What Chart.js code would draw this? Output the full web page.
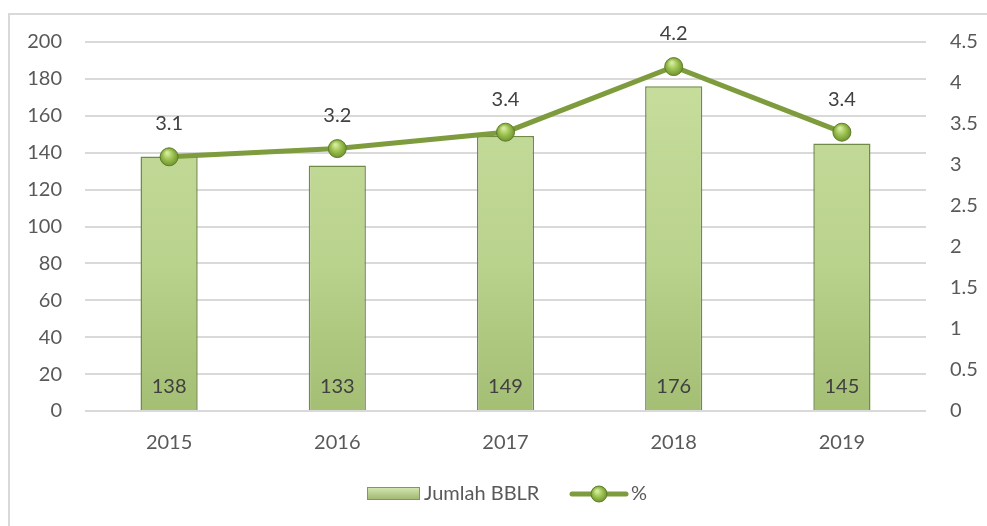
<!DOCTYPE html>
<html>
<head>
<meta charset="utf-8">
<script src="https://cdn.jsdelivr.net/npm/chart.js@4.4.0/dist/chart.umd.min.js"></script>
<style>
  html, body { margin: 0; padding: 0; background: #fff; overflow: hidden; }
  #wrap { position: relative; width: 987px; height: 526px; }
  #frame { position: absolute; left: 8px; top: 13px; width: 1000px; height: 530px;
           border-left: 2px solid #d9d9d9; border-top: 2px solid #d9d9d9; pointer-events: none; }
</style>
</head>
<body>
<div id="wrap">
  <canvas id="bblrChart" width="987" height="526"></canvas>
  <div id="frame"></div>
</div>
<script>
// Data
const years = ['2015', '2016', '2017', '2018', '2019'];
const jumlahBBLR = [138, 133, 149, 176, 145];
const persen = [3.1, 3.2, 3.4, 4.2, 3.4];
const leftTicks = [0, 20, 40, 60, 80, 100, 120, 140, 160, 180, 200];
const rightTicks = [0, 0.5, 1, 1.5, 2, 2.5, 3, 3.5, 4, 4.5];

const FONT = 'Lato, "Open Sans", sans-serif';
const TEXT = '#595959';

// vertical green gradient for the bars
function barGradient(context) {
  const area = context.chart.chartArea;
  if (!area) return '#b5d08a';
  const g = context.chart.ctx.createLinearGradient(0, area.top, 0, area.bottom);
  g.addColorStop(0, '#c9df9f');
  g.addColorStop(0.6, '#b9d28c');
  g.addColorStop(1, '#a4be74');
  return g;
}

// shiny ball look for the line points
function pointGradient(context) {
  const chart = context.chart;
  if (!chart.chartArea || context.dataIndex === undefined) return '#92b84a';
  const px = chart.scales.x.getPixelForValue(context.dataIndex);
  const py = chart.scales.y1.getPixelForValue(context.raw);
  const g = chart.ctx.createRadialGradient(px - 2, py - 4, 1, px, py, 10);
  g.addColorStop(0, '#d4ea9c');
  g.addColorStop(0.5, '#98be4c');
  g.addColorStop(1, '#6a8c2c');
  return g;
}

// value labels + legend drawn after the chart
const labelPlugin = {
  id: 'labels',
  afterDatasetsDraw(chart) {
    const ctx = chart.ctx;
    ctx.save();
    ctx.font = '20px ' + FONT;
    ctx.fillStyle = '#404040';
    ctx.textAlign = 'center';
    ctx.textBaseline = 'middle';
    const base = chart.scales.y.getPixelForValue(0);
    chart.getDatasetMeta(0).data.forEach((bar, i) => {
      ctx.fillText(jumlahBBLR[i], bar.x, base - 24);
    });
    chart.getDatasetMeta(1).data.forEach((pt, i) => {
      ctx.fillText(persen[i].toFixed(1), pt.x, pt.y - 33);
    });
    ctx.restore();
  },
  afterDraw(chart) {
    const ctx = chart.ctx;
    const y = 494;
    ctx.save();
    // bar swatch
    const g = ctx.createLinearGradient(0, y - 7, 0, y + 7);
    g.addColorStop(0, '#d6e8b2');
    g.addColorStop(1, '#98b26a');
    ctx.fillStyle = g;
    ctx.fillRect(367, y - 7, 53, 13);
    ctx.strokeStyle = '#7f9a52';
    ctx.lineWidth = 1;
    ctx.strokeRect(367.5, y - 6.5, 52, 12);
    ctx.font = '20px ' + FONT;
    ctx.fillStyle = TEXT;
    ctx.textAlign = 'left';
    ctx.textBaseline = 'middle';
    ctx.fillText('Jumlah BBLR', 424, y);
    // line swatch
    ctx.strokeStyle = '#7e9c3d';
    ctx.lineWidth = 5;
    ctx.lineCap = 'round';
    ctx.beginPath();
    ctx.moveTo(572, y);
    ctx.lineTo(626, y);
    ctx.stroke();
    const rg = ctx.createRadialGradient(597, y - 3, 1, 599, y, 9);
    rg.addColorStop(0, '#d4ea9c');
    rg.addColorStop(0.5, '#98be4c');
    rg.addColorStop(1, '#6a8c2c');
    ctx.beginPath();
    ctx.arc(599, y, 8, 0, Math.PI * 2);
    ctx.fillStyle = rg;
    ctx.fill();
    ctx.lineWidth = 1;
    ctx.strokeStyle = '#5f7d2a';
    ctx.stroke();
    ctx.fillStyle = TEXT;
    ctx.fillText('%', 631, y);
    ctx.restore();
  }
};

new Chart(document.getElementById('bblrChart'), {
  type: 'bar',
  data: {
    labels: years,
    datasets: [
      {
        type: 'bar',
        label: 'Jumlah BBLR',
        data: jumlahBBLR,
        yAxisID: 'y',
        backgroundColor: barGradient,
        borderColor: '#6f8b45',
        borderWidth: 1.5,
        barPercentage: 0.34,
        categoryPercentage: 1,
        order: 2
      },
      {
        type: 'line',
        label: '%',
        data: persen,
        yAxisID: 'y1',
        borderColor: '#7e9c3d',
        borderWidth: 5,
        tension: 0,
        pointRadius: 9,
        pointBackgroundColor: pointGradient,
        pointBorderColor: '#5f7d2a',
        pointBorderWidth: 1,
        order: 1
      }
    ]
  },
  options: {
    responsive: false,
    animation: false,
    layout: { padding: { top: 42, left: 0, right: 0, bottom: 0 } },
    plugins: {
      legend: { display: false },
      tooltip: { enabled: false }
    },
    scales: {
      x: {
        grid: { display: false, drawTicks: false },
        border: { display: false },
        ticks: { color: TEXT, font: { family: FONT, size: 20 }, padding: 20 },
        afterFit(scale) { scale.height = 115; }
      },
      y: {
        position: 'left',
        min: 0,
        max: 200,
        afterBuildTicks(scale) { scale.ticks = leftTicks.map(v => ({ value: v })); },
        grid: { color: '#d9d9d9', lineWidth: 2, drawTicks: false },
        border: { display: false },
        ticks: { color: TEXT, font: { family: FONT, size: 20 }, padding: 23 },
        afterFit(scale) { scale.width = 85; }
      },
      y1: {
        position: 'right',
        min: 0,
        max: 4.5,
        afterBuildTicks(scale) { scale.ticks = rightTicks.map(v => ({ value: v })); },
        grid: { display: false, drawTicks: false },
        border: { display: false },
        ticks: {
          color: TEXT, font: { family: FONT, size: 20 }, padding: 24,
          callback: v => String(v)
        },
        afterFit(scale) { scale.width = 61; }
      }
    }
  },
  plugins: [labelPlugin]
});
</script>
</body>
</html>
